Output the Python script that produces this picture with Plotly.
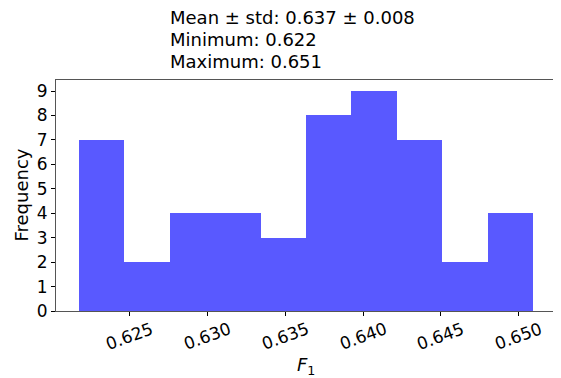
import numpy as np
import plotly.graph_objects as go

# Data
counts = [7, 2, 4, 4, 3, 8, 9, 7, 2, 4]
data_min = 0.62171
data_max = 0.65094
x_tick_vals = [0.625, 0.630, 0.635, 0.640, 0.645, 0.650]
x_tick_text = ["0.625", "0.630", "0.635", "0.640", "0.645", "0.650"]
y_tick_vals = [0, 1, 2, 3, 4, 5, 6, 7, 8, 9]
title_lines = ["Mean ± std: 0.637 ± 0.008", "Minimum: 0.622", "Maximum: 0.651"]

edges = np.linspace(data_min, data_max, len(counts) + 1)
centers = (edges[:-1] + edges[1:]) / 2
width = edges[1] - edges[0]
span = data_max - data_min

fig = go.Figure()
fig.add_trace(go.Bar(
    x=centers, y=counts, width=[width] * len(counts),
    marker=dict(color="rgba(0,0,255,0.65)", line=dict(width=0)),
))

font = "DejaVu Sans"
fig.update_layout(
    width=553, height=370,
    margin=dict(l=48, r=5, t=72, b=67, autoexpand=False),
    paper_bgcolor="white", plot_bgcolor="white",
    showlegend=False, bargap=0,
    font=dict(family=font, color="black", size=17),
)
fig.update_xaxes(
    range=[data_min - 0.05 * span, data_max + 0.05 * span],
    tickmode="array", tickvals=x_tick_vals, showticklabels=False,
    ticks="outside", ticklen=4, tickcolor="black",
    showline=True, mirror=True, linecolor="#555555", linewidth=1,
    showgrid=False, zeroline=False, automargin=False,
)
fig.update_yaxes(
    range=[0, 9 * 1.05],
    tickmode="array", tickvals=y_tick_vals,
    ticks="outside", ticklen=4, tickcolor="black",
    showline=True, mirror=True, linecolor="#555555", linewidth=1,
    showgrid=False, zeroline=False, automargin=False,
    tickfont=dict(size=17),
)
for v, t in zip(x_tick_vals, x_tick_text):
    fig.add_annotation(
        text=t, xref="x", yref="paper", x=v, y=0, yshift=-25,
        xanchor="center", yanchor="middle", textangle=-20,
        showarrow=False, font=dict(size=17),
    )
fig.add_annotation(
    text="<i>F</i><sub>1</sub>", xref="paper", yref="paper",
    x=0.5, y=0, yshift=-55, xanchor="center", yanchor="middle",
    showarrow=False, font=dict(size=18),
)
fig.add_annotation(
    text="Frequency", xref="paper", yref="paper", textangle=-90,
    x=0, xshift=-35, y=0.5, xanchor="center", yanchor="middle",
    showarrow=False, font=dict(size=18),
)
title_shifts = [63, 41, 19]
for line, ys in zip(title_lines, title_shifts):
    fig.add_annotation(
        text=line, xref="paper", yref="paper",
        x=(160 - 48) / 500, y=1.0, xanchor="left", yanchor="middle",
        yshift=ys, align="left", showarrow=False, font=dict(size=18),
    )
fig.write_html("out.html")
